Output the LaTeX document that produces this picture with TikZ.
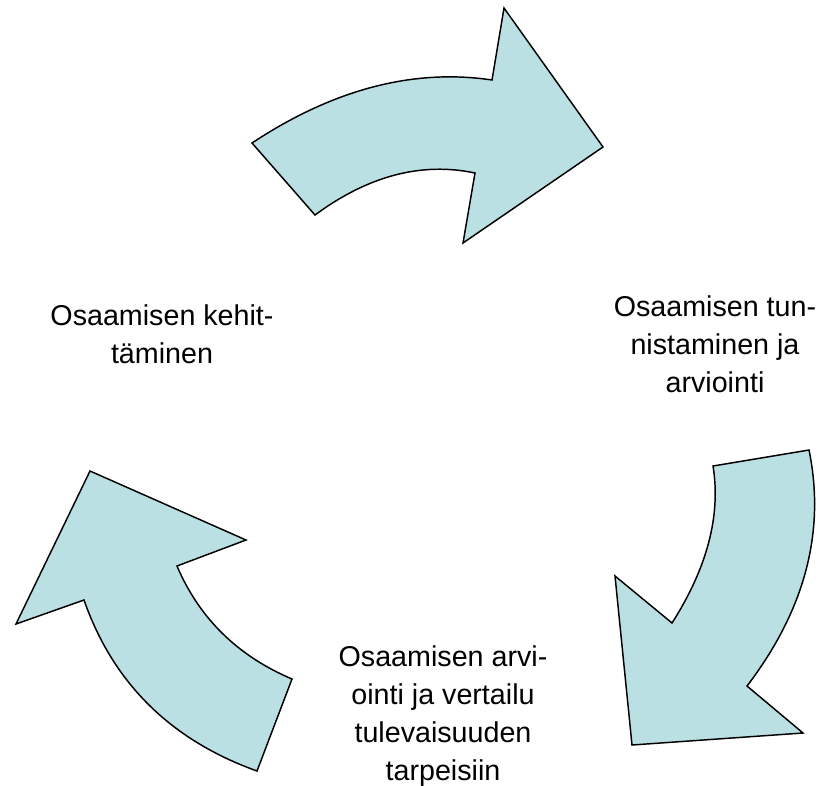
\documentclass[tikz,border=0pt]{standalone}
\usepackage{fontspec}
\setmainfont{Liberation Sans}
\usepackage{tikz}
\usepackage{xcolor}
\usetikzlibrary{calc,positioning}
\definecolor{NuoliSininen}{HTML}{BBE0E3}
\tikzset{
  kiertonuoli/.style={draw=black, fill=NuoliSininen, line width=1.1pt, line join=miter},
  vaihe/.style={align=center, inner sep=0pt, font=\fontsize{21.5}{28.5}\selectfont}
}

\begin{document}
\begin{tikzpicture}[x=0.75pt,y=-0.75pt]
  \useasboundingbox (0,0) rectangle (827,785);
  % ylempi nuoli
  \filldraw[kiertonuoli] (252,143) .. controls (333.3,89.3) and (413.3,68.3) .. (492,80)
    -- (504,8) -- (603,147) -- (463,243) -- (475,173)
    .. controls (421.7,161.7) and (368.3,175.7) .. (315,215) -- cycle;
  % oikea nuoli
  \filldraw[kiertonuoli] (809,450) .. controls (825.7,531.3) and (805,610) .. (747,686)
    -- (803,733) -- (632,745) -- (615,576) -- (672,623)
    .. controls (707.3,567.7) and (721,515.3) .. (713,466) -- cycle;
  % vasen nuoli
  \filldraw[kiertonuoli] (257,771) .. controls (170.7,740) and (113,683) .. (84,600)
    -- (16,624) -- (90,471) -- (246,540) -- (177,566)
    .. controls (199.3,618.3) and (237.7,656) .. (292,679) -- cycle;
  % tekstit
  \node[vaihe] (kehitys) at (162,334) {Osaamisen kehit-\\täminen};
  \node[vaihe] (tunnistus) at (715,344) {Osaamisen tun-\\nistaminen ja\\arviointi};
  \node[vaihe] (vertailu) at (443,716) {Osaamisen arvi-\\ointi ja vertailu\\tulevaisuuden\\tarpeisiin};
\end{tikzpicture}
\end{document}
